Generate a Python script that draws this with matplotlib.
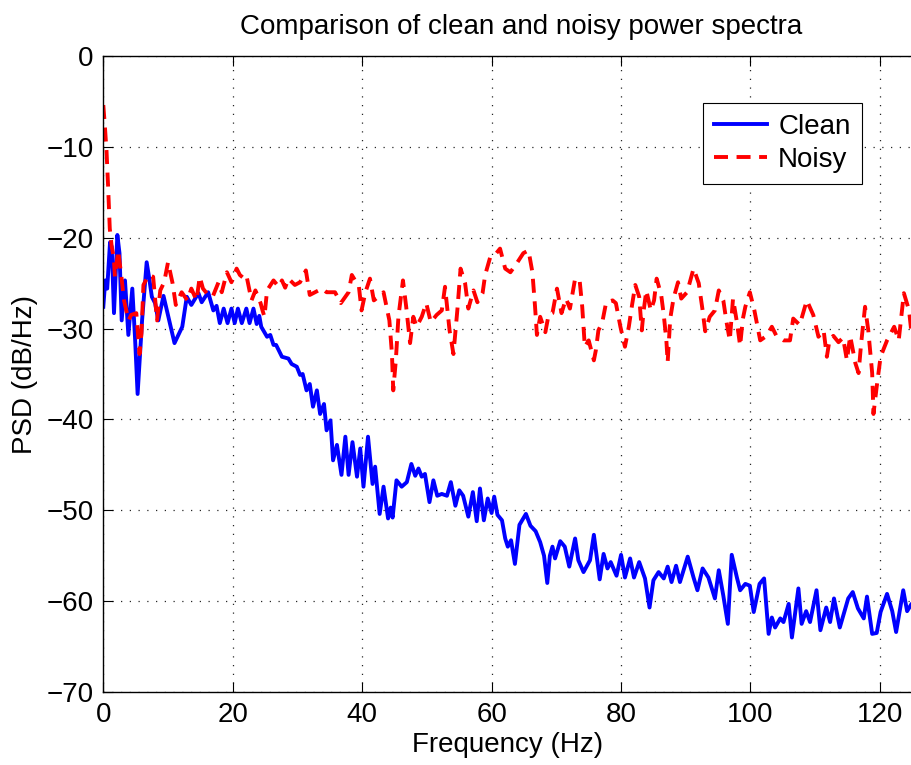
import matplotlib
matplotlib.use('Agg')
import matplotlib.pyplot as plt

plt.rcParams['font.family'] = ['Liberation Sans', 'DejaVu Sans']

# clean spectrum (Hz, dB/Hz)
clean_f = [0.0, 0.3, 0.6, 1.04, 1.3, 1.65, 2.17, 2.5, 2.84, 3.35, 3.87, 4.48, 4.9, 5.3, 6.0, 6.7,
           7.1, 7.5, 8.0, 8.5, 9.3, 11.0, 12.2, 12.9, 13.6, 14.7, 15.2, 16.2, 17.0, 17.5, 18.0,
           18.6, 19.2, 19.8, 20.3, 20.8, 21.4, 22.1, 22.6, 23.2, 23.7, 24.1, 24.4, 25.3, 25.8,
           26.3, 26.7, 27.6, 28.6, 29.1, 29.9, 30.4, 30.8, 31.4, 31.9, 32.4, 33.0, 33.5, 34.1,
           34.5, 35.1, 35.5, 36.1, 36.8, 37.4, 37.9, 38.5, 39.2, 39.7, 40.2, 40.9, 41.6, 42.0,
           42.7, 43.3, 44.0, 44.4, 44.7, 45.3, 46.1, 46.9, 47.6, 48.2, 48.7, 49.2, 49.7, 50.4,
           51.0, 51.6, 52.3, 53.1, 53.7, 54.4, 55.0, 55.6, 56.4, 57.1, 57.7, 58.2, 58.8, 59.4,
           60.0, 60.4, 60.9, 61.6, 62.1, 62.5, 63.0, 63.6, 64.3, 65.3, 66.0, 66.8, 67.5, 68.1,
           68.6, 69.0, 69.4, 69.8, 70.6, 71.3, 72.0, 72.9, 73.4, 74.2, 75.2, 75.8, 76.7, 77.3,
           77.9, 78.4, 79.3, 80.0, 80.6, 81.4, 82.0, 82.8, 83.7, 84.4, 85.0, 85.8, 86.6, 87.2,
           87.8, 88.5, 89.1, 90.3, 91.2, 91.8, 92.6, 93.5, 94.5, 95.1, 95.8, 96.5, 97.1, 97.9,
           98.4, 99.2, 99.9, 100.5, 101.4, 102.1, 102.8, 103.3, 103.8, 104.6, 105.1, 105.9,
           106.4, 107.4, 107.9, 108.6, 109.2, 110.2, 110.8, 111.7, 112.3, 112.9, 113.8, 115.1,
           115.8, 116.6, 117.5, 118.0, 118.8, 119.5, 120.1, 121.1, 121.9, 122.5, 123.6, 124.2,
           124.8]
clean_db = [-27.6, -24.7, -25.6, -20.5, -21.0, -28.3, -19.7, -21.7, -29.1, -24.7, -30.7, -25.6,
            -31.0, -37.2, -29.0, -22.7, -24.5, -26.5, -27.2, -29.1, -26.4, -31.6, -29.8, -26.5,
            -27.4, -26.1, -27.1, -26.0, -28.0, -27.5, -29.4, -27.8, -29.4, -27.8, -29.4, -27.8,
            -29.4, -27.8, -29.4, -27.8, -29.5, -28.6, -29.8, -30.9, -30.7, -31.8, -31.8, -33.1,
            -33.3, -33.9, -34.2, -35.1, -35.0, -36.8, -36.1, -38.6, -36.8, -39.4, -38.3, -41.2,
            -40.1, -44.5, -42.8, -46.1, -41.9, -46.1, -42.5, -46.3, -43.2, -47.4, -41.9, -47.1,
            -45.2, -50.4, -47.4, -50.9, -49.7, -50.8, -46.7, -47.4, -46.9, -44.9, -46.2, -45.4,
            -46.3, -46.0, -49.1, -46.7, -48.4, -48.2, -48.4, -46.9, -49.5, -47.8, -48.4, -50.7,
            -48.0, -51.2, -47.6, -51.1, -48.7, -50.3, -48.5, -50.5, -51.1, -53.1, -54.0, -53.3,
            -55.9, -51.6, -50.4, -51.7, -52.3, -53.5, -55.0, -58.0, -55.0, -54.0, -55.3, -53.4,
            -54.0, -56.2, -53.1, -55.5, -56.8, -55.5, -52.7, -57.6, -54.8, -56.4, -55.7, -57.2,
            -54.9, -57.4, -55.3, -57.4, -55.7, -57.5, -60.7, -57.7, -56.8, -57.5, -56.2, -57.9,
            -56.1, -57.9, -55.1, -57.4, -58.8, -56.4, -57.4, -59.7, -56.6, -59.4, -62.5, -54.9,
            -57.4, -58.8, -58.1, -58.3, -61.2, -58.1, -57.5, -63.6, -61.8, -62.9, -61.9, -62.3,
            -60.3, -64.0, -58.6, -62.5, -61.1, -62.3, -58.8, -63.2, -60.7, -62.3, -59.7, -62.9,
            -59.7, -59.0, -60.8, -61.9, -59.5, -63.6, -63.5, -61.2, -59.2, -61.1, -63.4, -58.8,
            -61.1, -60.4]

# noisy spectrum (Hz, dB/Hz)
noisy_f = [0.0, 0.25, 0.5, 0.75, 1.0, 1.3, 1.6, 1.8, 2.3, 2.8, 3.2, 3.9, 4.3, 5.1, 5.6, 5.9, 6.2,
           7.0, 7.7, 8.3, 8.8, 9.4, 10.0, 10.7, 11.2, 12.1, 13.0, 13.6, 14.4, 14.9, 15.4, 16.2,
           16.9, 17.8, 18.3, 19.1, 19.8, 20.6, 21.1, 21.6, 22.1, 22.9, 23.5, 24.3, 24.6, 24.9,
           25.3, 26.3, 27.1, 27.6, 28.1, 28.6, 29.6, 30.4, 31.3, 31.9, 32.7, 33.8, 34.5, 35.8,
           36.7, 37.9, 38.4, 39.5, 39.9, 40.5, 41.2, 41.8, 42.5, 43.3, 44.2, 44.6, 44.8, 45.2,
           45.6, 46.3, 46.8, 47.4, 47.9, 48.4, 49.2, 49.9, 50.6, 51.5, 52.3, 52.8, 53.5, 54.1,
           54.7, 55.2, 55.9, 56.4, 57.2, 57.8, 58.6, 59.0, 59.8, 60.5, 61.3, 62.1, 62.9, 63.9,
           64.9, 65.7, 66.3, 66.7, 67.0, 67.5, 68.3, 68.8, 69.4, 70.1, 70.8, 71.5, 72.1, 72.9,
           73.6, 74.0, 74.4, 75.0, 75.8, 76.1, 76.5, 77.1, 77.7, 78.7, 79.2, 79.9, 80.6, 81.2,
           81.7, 82.2, 82.8, 83.2, 83.5, 83.9, 84.6, 85.1, 85.5, 86.2, 86.6, 87.0, 87.2, 87.6,
           88.1, 88.8, 89.3, 90.2, 91.2, 92.0, 92.6, 93.0, 93.7, 94.5, 95.1, 95.8, 96.3, 96.8,
           97.3, 97.9, 98.4, 98.8, 99.2, 99.9, 100.6, 101.5, 102.5, 103.3, 104.0, 105.1, 106.1,
           106.6, 107.6, 108.7, 109.7, 110.5, 111.3, 111.8, 112.2, 112.8, 113.6, 114.3, 114.9,
           115.4, 116.2, 116.7, 117.1, 117.7, 118.2, 118.8, 119.0, 119.5, 120.1, 121.1, 122.2,
           122.9, 123.7, 124.5, 124.8]
noisy_db = [-5.4, -7.8, -10.5, -14.5, -19.0, -21.0, -22.1, -24.3, -21.4, -24.3, -26.9, -29.1,
            -28.5, -28.3, -32.8, -30.5, -25.2, -24.1, -24.3, -29.1, -25.8, -24.9, -22.7, -25.0,
            -27.4, -26.0, -26.9, -25.6, -26.9, -24.3, -25.6, -26.3, -26.5, -24.9, -26.0, -23.8,
            -24.9, -23.4, -24.1, -24.4, -24.1, -26.9, -25.8, -27.2, -28.0, -28.7, -25.8, -24.7,
            -25.4, -24.7, -25.5, -24.5, -25.2, -24.9, -23.6, -26.3, -26.0, -25.6, -26.0, -26.0,
            -27.2, -26.0, -24.1, -25.4, -28.0, -26.0, -24.5, -26.9, -26.5, -26.0, -29.1, -32.8,
            -36.8, -33.5, -28.7, -24.7, -27.6, -31.6, -28.7, -29.8, -28.7, -27.2, -29.3, -28.5,
            -28.0, -25.4, -30.2, -32.8, -28.0, -23.4, -25.0, -27.8, -25.8, -27.1, -26.1, -24.1,
            -22.1, -21.9, -21.2, -23.4, -23.8, -22.8, -21.7, -21.4, -23.8, -27.5, -30.7, -28.7,
            -30.4, -28.5, -28.3, -25.6, -28.3, -26.7, -27.8, -24.5, -24.7, -27.6, -32.0, -31.3,
            -33.5, -32.4, -30.2, -29.3, -27.1, -26.9, -27.2, -29.8, -32.0, -29.8, -27.4, -25.2,
            -26.5, -30.2, -28.0, -25.8, -28.0, -26.9, -24.5, -26.3, -28.5, -31.3, -33.7, -28.9,
            -26.7, -24.9, -26.7, -26.0, -23.4, -25.0, -28.0, -30.3, -28.7, -28.0, -25.8, -26.9,
            -29.3, -31.3, -26.7, -29.3, -31.9, -29.0, -27.6, -26.0, -28.0, -31.3, -30.8, -29.8,
            -30.8, -31.3, -31.3, -28.9, -29.6, -26.9, -28.5, -30.9, -30.2, -33.1, -31.3, -30.8,
            -31.5, -31.0, -33.5, -30.8, -33.8, -34.9, -31.6, -27.6, -30.2, -34.9, -39.4, -36.4,
            -33.1, -31.3, -29.8, -31.3, -26.1, -28.0, -30.0]

fig = plt.figure(figsize=(9.11, 7.65), dpi=100)
ax = fig.add_axes([0.1134, 0.0954, 0.8866, 0.8314])

ax.plot(clean_f, clean_db, color='#0000ff', linewidth=2.8, label='Clean')
ax.plot(noisy_f, noisy_db, color='#ff0000', linewidth=2.8, linestyle='--',
        dashes=(3.6, 2.2), label='Noisy')

ax.set_xlim(0, 124.8)
ax.set_ylim(-70, 0)
ax.set_xticks(range(0, 121, 20))
ax.set_yticks(range(-70, 1, 10))
ax.tick_params(direction='in', length=7, width=0.8, labelsize=20, top=True, right=False, pad=7)
ax.grid(True, linestyle=(0, (1, 6)), color='black', linewidth=0.9, alpha=0.85)
ax.spines['right'].set_visible(False)
for s in ['left', 'bottom', 'top']:
    ax.spines[s].set_linewidth(1.0)

# the original axes run past the cropped right edge, so the title sits right of centre
ax.set_title('Comparison of clean and noisy power spectra', fontsize=20, pad=16, x=0.517)
ax.set_xlabel('Frequency (Hz)', fontsize=20, labelpad=3)
ax.set_ylabel('PSD (dB/Hz)', fontsize=20, labelpad=6)

leg = ax.legend(loc='upper right', bbox_to_anchor=(0.939, 0.926), borderaxespad=0,
                fontsize=20, fancybox=False, framealpha=1, edgecolor='black',
                handlelength=1.9, borderpad=0.4, labelspacing=0.25, handletextpad=0.4)
leg.get_frame().set_linewidth(0.8)

fig.savefig('out.png', dpi=100)
